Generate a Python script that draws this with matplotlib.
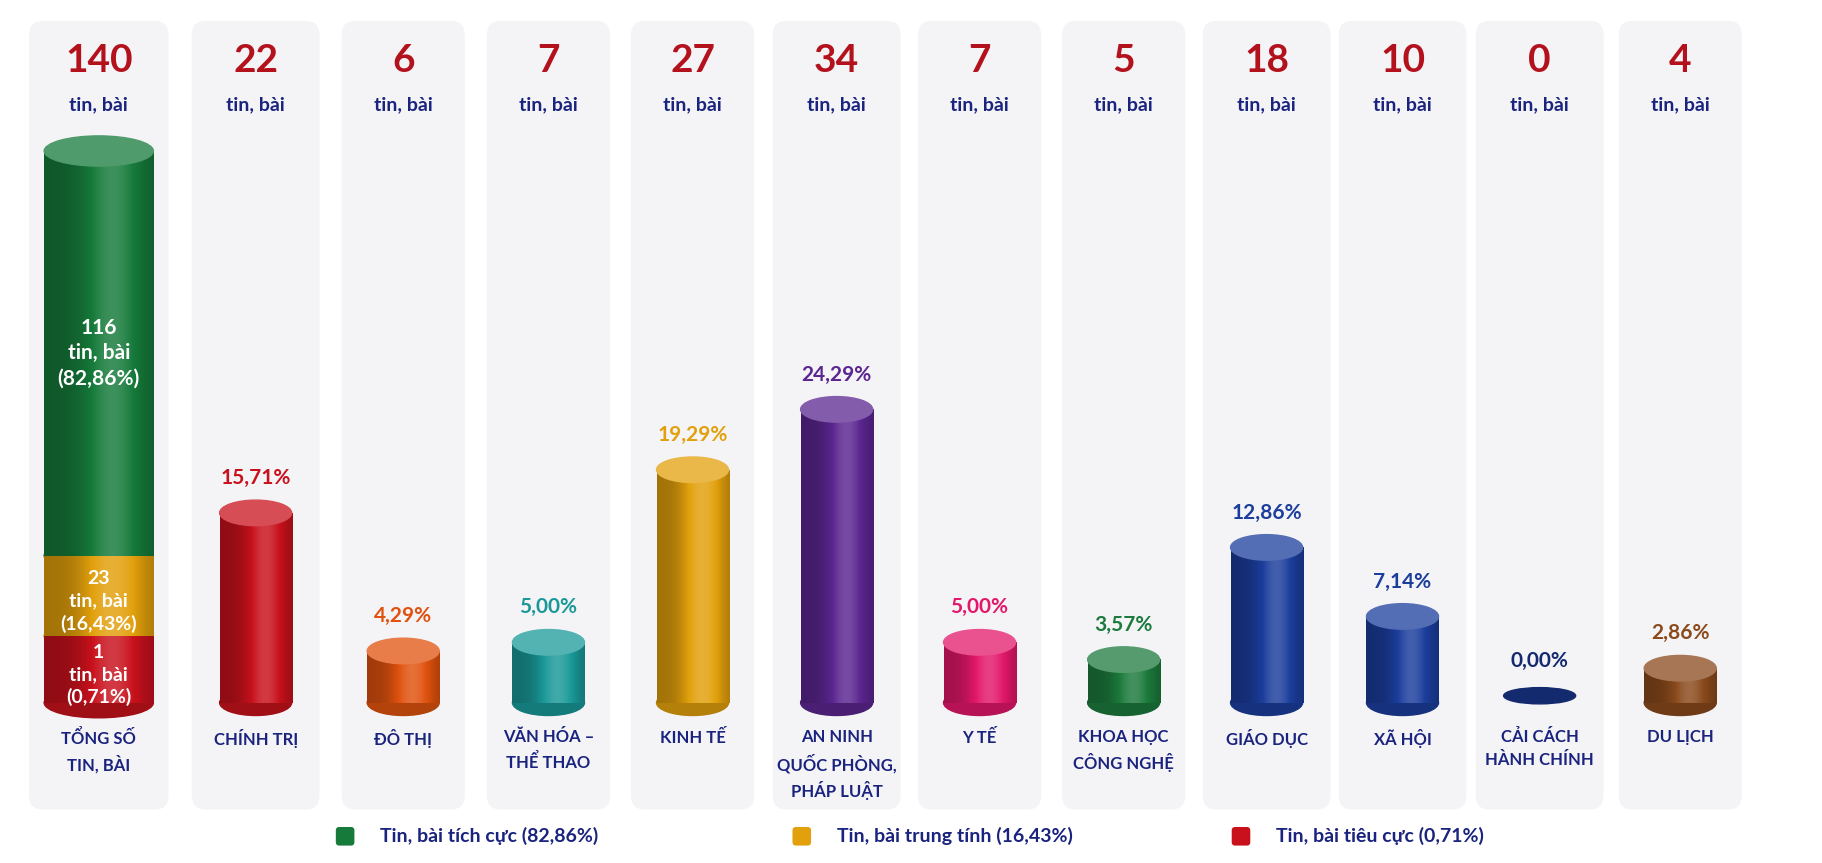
import matplotlib
matplotlib.use("Agg")
import matplotlib.pyplot as plt
import numpy as np
from matplotlib.patches import FancyBboxPatch, Ellipse
from matplotlib.colors import to_rgb

categories = ["TỔNG SỐ\nTIN, BÀI", "CHÍNH TRỊ", "ĐÔ THỊ", "VĂN HÓA –\nTHỂ THAO", "KINH TẾ",
              "AN NINH\nQUỐC PHÒNG,\nPHÁP LUẬT", "Y TẾ", "KHOA HỌC\nCÔNG NGHỆ", "GIÁO DỤC",
              "XÃ HỘI", "CẢI CÁCH\nHÀNH CHÍNH", "DU LỊCH"]
counts = [140, 22, 6, 7, 27, 34, 7, 5, 18, 10, 0, 4]
pct_labels = [None, "15,71%", "4,29%", "5,00%", "19,29%", "24,29%", "5,00%", "3,57%",
              "12,86%", "7,14%", "0,00%", "2,86%"]
colors = [None, "#c8111c", "#e0520e", "#1a9898", "#e2a00c", "#5b2690", "#e3176a", "#1c7a3c",
          "#1b3d9c", "#1b3d9c", "#142a6e", "#8a4a1c"]
total_segments = [116, 23, 1]
total_labels = ["116\ntin, bài\n(82,86%)", "23\ntin, bài\n(16,43%)", "1\ntin, bài\n(0,71%)"]
total_colors = ["#157a3a", "#e2a00c", "#c8111c"]
legend_labels = ["Tin, bài tích cực (82,86%)", "Tin, bài trung tính (16,43%)", "Tin, bài tiêu cực (0,71%)"]

W, H = 1568, 743
fig = plt.figure(figsize=(18.22, 8.63), dpi=100)
ax = fig.add_axes([0, 0, 1, 1])
ax.axis("off")
fig.patch.set_facecolor("white")
FONT = ["Lato", "DejaVu Sans"]
NAVY = "#1a237e"; DARKRED = "#b3121d"

centers = [85, 220, 347, 472, 596, 720, 843, 967, 1090, 1207, 1325, 1446]
panel_w = [120, 110, 106, 106, 106, 110, 106, 106, 110, 110, 110, 106]
base = 605
scale = 10.4  # px per percent

def shade(c, f):
    r = np.array(to_rgb(c))
    return np.clip(r * f if f < 1 else r + (1 - r) * (f - 1), 0, 1)

def cylinder(cx, w, y0, y1, color, eh, draw_top=True):
    xs = np.linspace(-1, 1, 200)
    prof = 0.72 + 0.45 * np.exp(-((xs - 0.25) / 0.55) ** 2)
    img = np.array([[shade(color, p) for p in prof]])
    ax.imshow(img, extent=[cx - w / 2, cx + w / 2, y1, y0], aspect="auto", zorder=3,
              interpolation="bilinear")
    ax.add_patch(Ellipse((cx, y1), w, eh, color=shade(color, 0.8), zorder=2.9))
    if draw_top:
        ax.add_patch(Ellipse((cx, y0), w, eh, color=shade(color, 1.25), zorder=3.2))

for i, (cx, pw) in enumerate(zip(centers, panel_w)):
    ax.add_patch(FancyBboxPatch((cx - pw / 2, 18), pw, 679, boxstyle="round,pad=0,rounding_size=12",
                                fc="#f4f4f7", ec="none", zorder=1))
    ax.text(cx, 52, str(counts[i]), ha="center", va="center", fontsize=28, fontweight="bold",
            color=DARKRED, family=FONT)
    ax.text(cx, 90, "tin, bài", ha="center", va="center", fontsize=14, fontweight="bold",
            color=NAVY, family=FONT)
    ax.text(cx, 628, categories[i], ha="center", va="top", fontsize=12, fontweight="bold",
            color=NAVY, family=FONT, linespacing=1.5)

# total stacked cylinder: green on top, red at bottom
segs_h = [max(s / counts[0] * 475, 65) for s in total_segments]
f = 475 / sum(segs_h)
y = 130
bounds = []
for h in segs_h:
    bounds.append((y, y + h * f)); y += h * f
for k in range(len(bounds) - 1, -1, -1):
    y0, y1 = bounds[k]
    cylinder(85, 94, y0, y1, total_colors[k], 26, draw_top=(k == 0))
for k, (y0, y1) in enumerate(bounds):
    ax.text(85, (y0 + y1) / 2 + (0 if k == 0 else 5), total_labels[k], ha="center", va="center",
            fontsize=15 if k == 0 else 14, fontweight="bold", color="white", family=FONT,
            linespacing=1.35, zorder=5)

for i in range(1, len(categories)):
    cx = centers[i]
    p = counts[i] / counts[0] * 100
    top = base - p * scale
    if counts[i] > 0:
        cylinder(cx, 62, top, base, colors[i], 22)
    else:
        ax.add_patch(Ellipse((cx, base - 6), 62, 14, color=colors[i], zorder=3))
        top = base - 6
    ax.text(cx, top - 30, pct_labels[i], ha="center", va="center", fontsize=15, fontweight="bold",
            color=colors[i], family=FONT)

for x, lab, c in zip([297, 690, 1068], legend_labels, total_colors):
    ax.add_patch(FancyBboxPatch((x - 8, 712), 16, 16, boxstyle="round,pad=0,rounding_size=3",
                                fc=c, ec="none"))
    ax.text(x + 30, 720, lab, ha="left", va="center", fontsize=14, fontweight="bold",
            color=NAVY, family=FONT)

ax.set_xlim(0, W); ax.set_ylim(H, 0)
fig.savefig("out.png", dpi=100)
